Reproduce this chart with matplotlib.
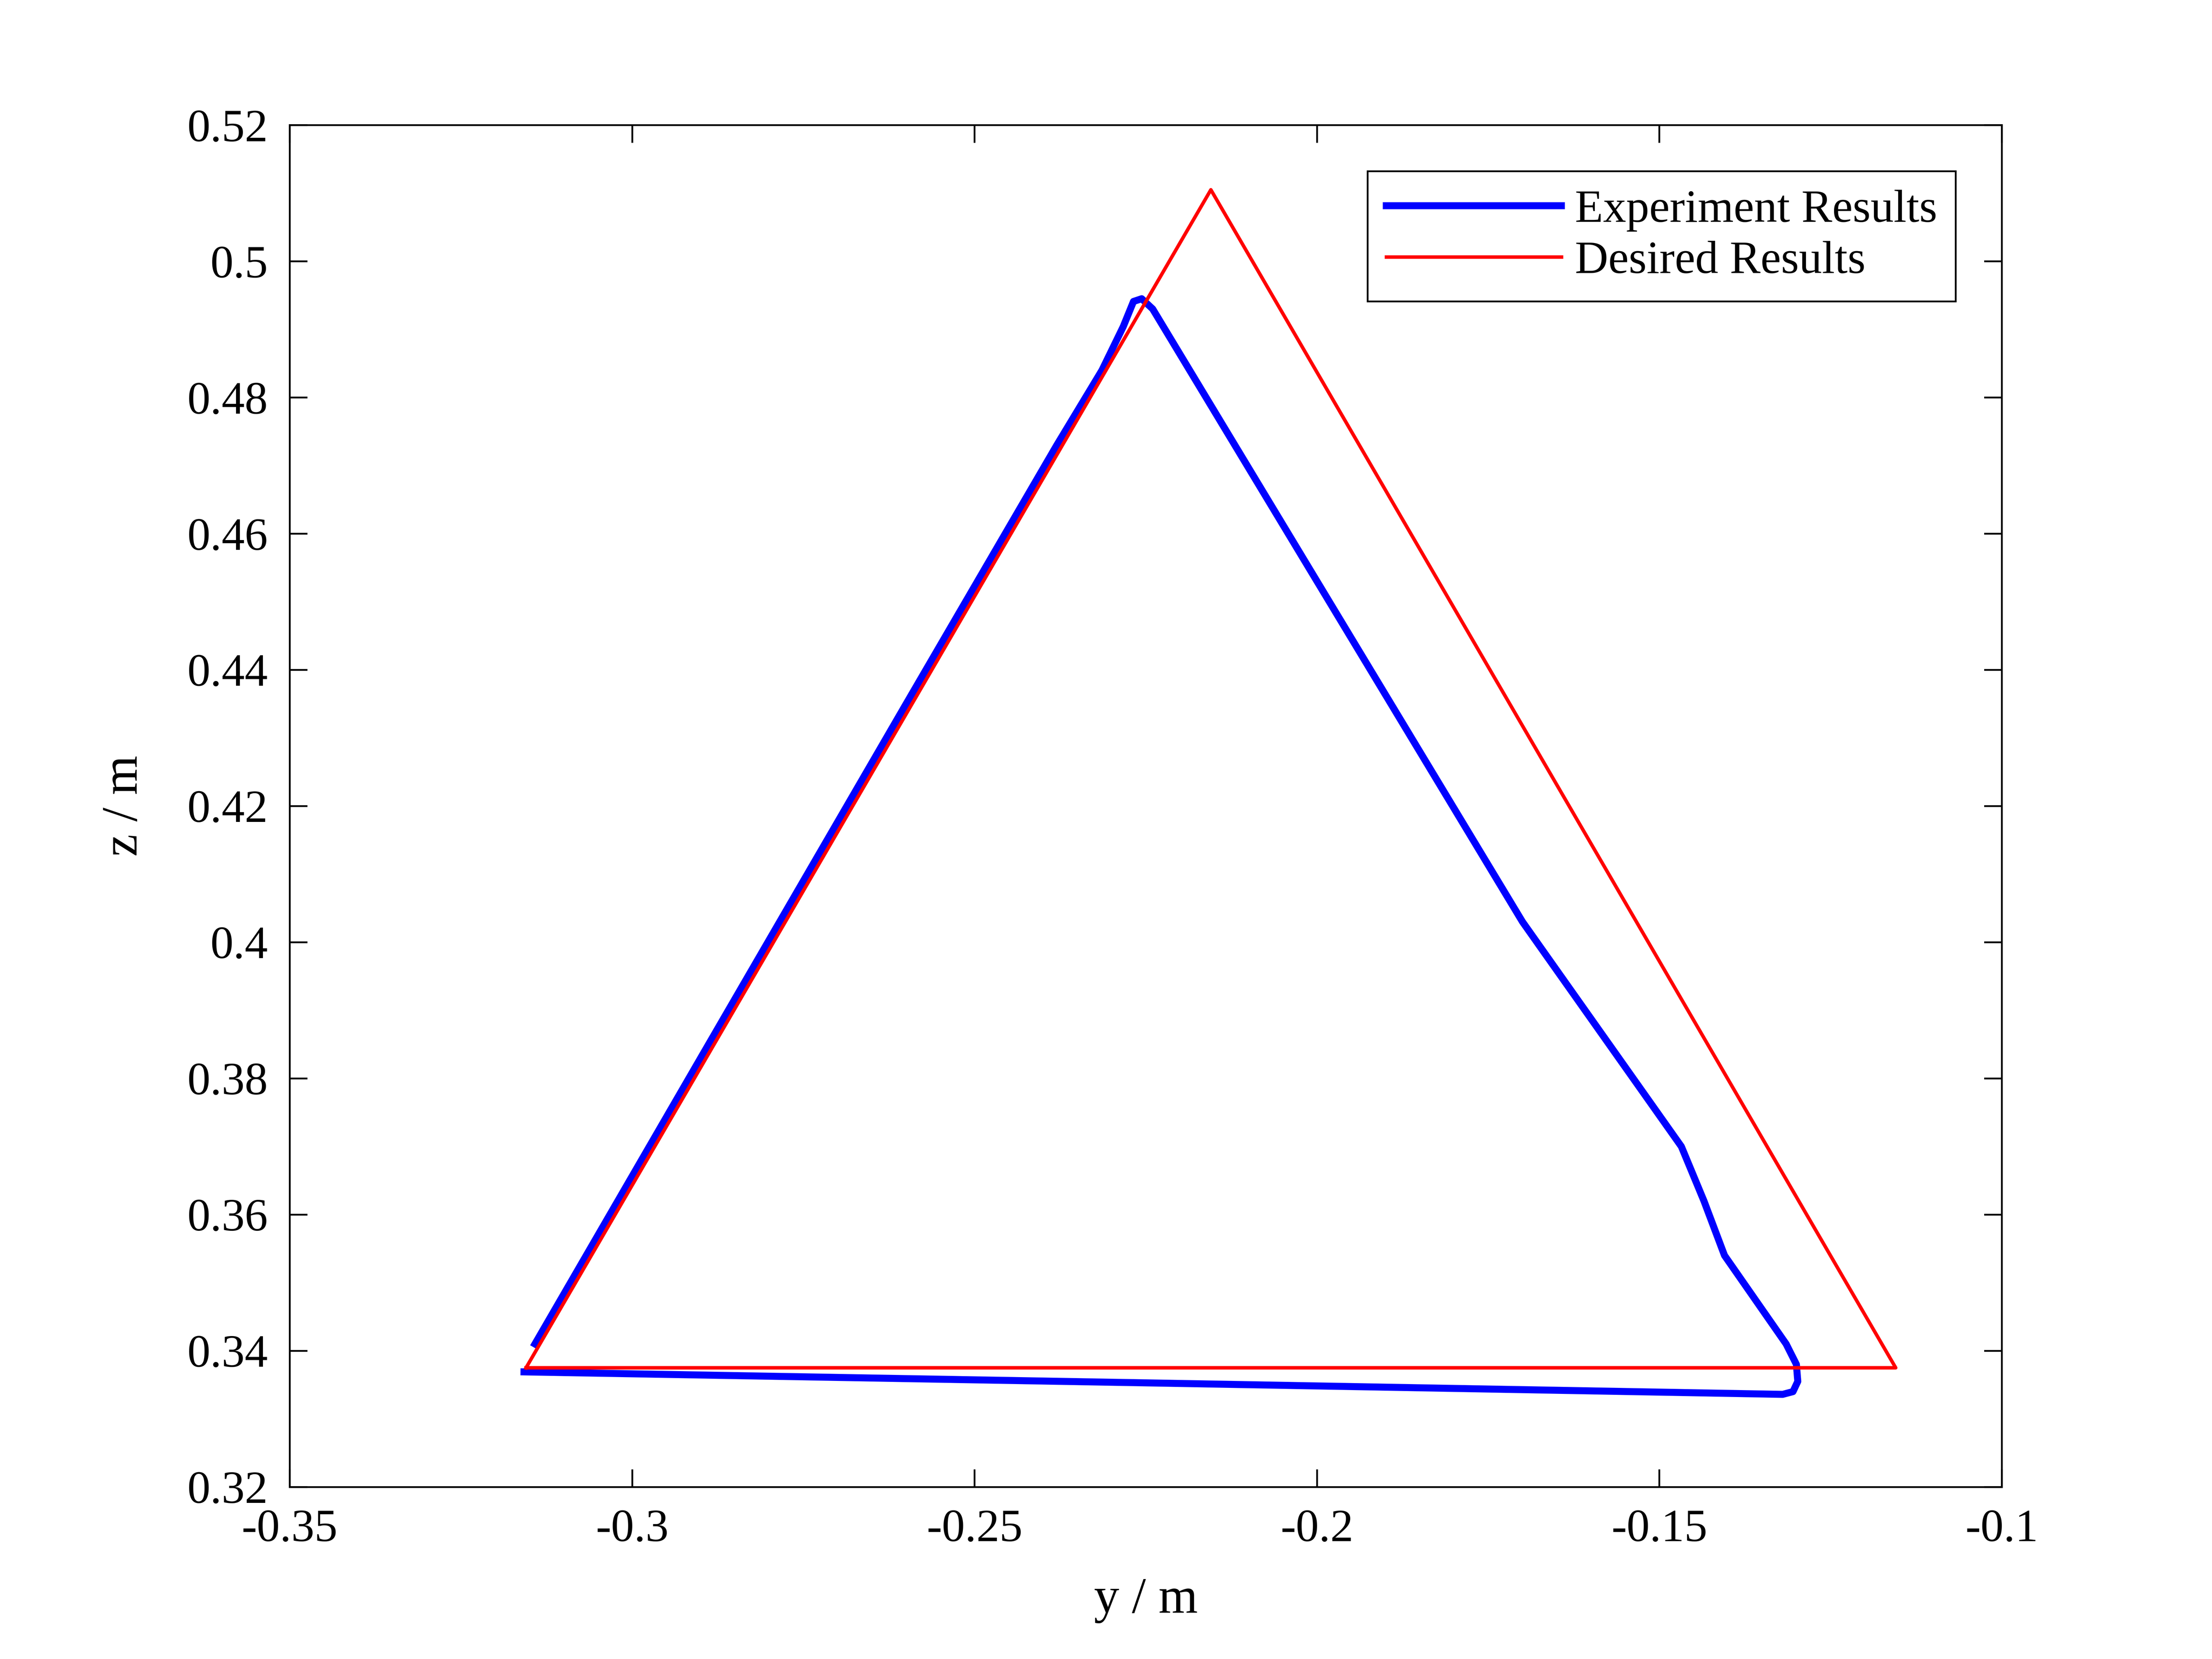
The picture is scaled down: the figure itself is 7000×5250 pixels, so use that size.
import matplotlib
matplotlib.use("Agg")
import matplotlib.pyplot as plt

# desired triangle (y, z)
des_y = [-0.3155, -0.2155, -0.1155, -0.3155]
des_z = [0.3375, 0.5105, 0.3375, 0.3375]

# experiment trajectory
exp_y = [-0.3142, -0.2900, -0.2600, -0.2380, -0.2314, -0.2283, -0.2268, -0.2256, -0.2240,
         -0.2000, -0.1700, -0.1468, -0.1435, -0.1405, -0.1360, -0.1315, -0.1300, -0.1298,
         -0.1305, -0.1320, -0.2200, -0.3158]
exp_z = [0.3410, 0.3830, 0.4350, 0.4730, 0.4840, 0.4904, 0.4941, 0.4945, 0.4930,
         0.4530, 0.4030, 0.3700, 0.3620, 0.3540, 0.3475, 0.3410, 0.3380, 0.3355,
         0.3340, 0.3336, 0.3352, 0.3369]

plt.rcParams["font.family"] = ["Liberation Serif", "DejaVu Serif"]
fig = plt.figure(figsize=(14, 10.5), dpi=500)
ax = fig.add_axes([0.131, 0.1037, 0.774, 0.8209])
ax.plot(exp_y, exp_z, color="#0000ff", lw=3.2, label="Experiment Results")
ax.plot(des_y, des_z, color="#ff0000", lw=1.6, label="Desired Results")
ax.set_xlim(-0.35, -0.1)
ax.set_ylim(0.32, 0.52)
ax.set_xticks([-0.35, -0.3, -0.25, -0.2, -0.15, -0.1])
ax.set_xticklabels(["-0.35", "-0.3", "-0.25", "-0.2", "-0.15", "-0.1"])
ax.set_yticks([0.32 + 0.02 * i for i in range(11)])
ax.set_yticklabels(["0.32", "0.34", "0.36", "0.38", "0.4", "0.42", "0.44", "0.46", "0.48", "0.5", "0.52"])
ax.tick_params(direction="in", top=True, right=True, labelsize=21, length=8, width=0.8, pad=10)
for s in ax.spines.values():
    s.set_linewidth(0.8)
ax.set_xlabel("y / m", fontsize=23, labelpad=12)
ax.set_ylabel("z / m", fontsize=23, labelpad=18)
leg = ax.legend(loc="upper right", fontsize=21, fancybox=False, edgecolor="black",
                framealpha=1, handlelength=3.8, handletextpad=0.3, borderaxespad=1.0,
                labelspacing=0.2)
leg.get_frame().set_linewidth(0.8)
fig.savefig("out.png")
